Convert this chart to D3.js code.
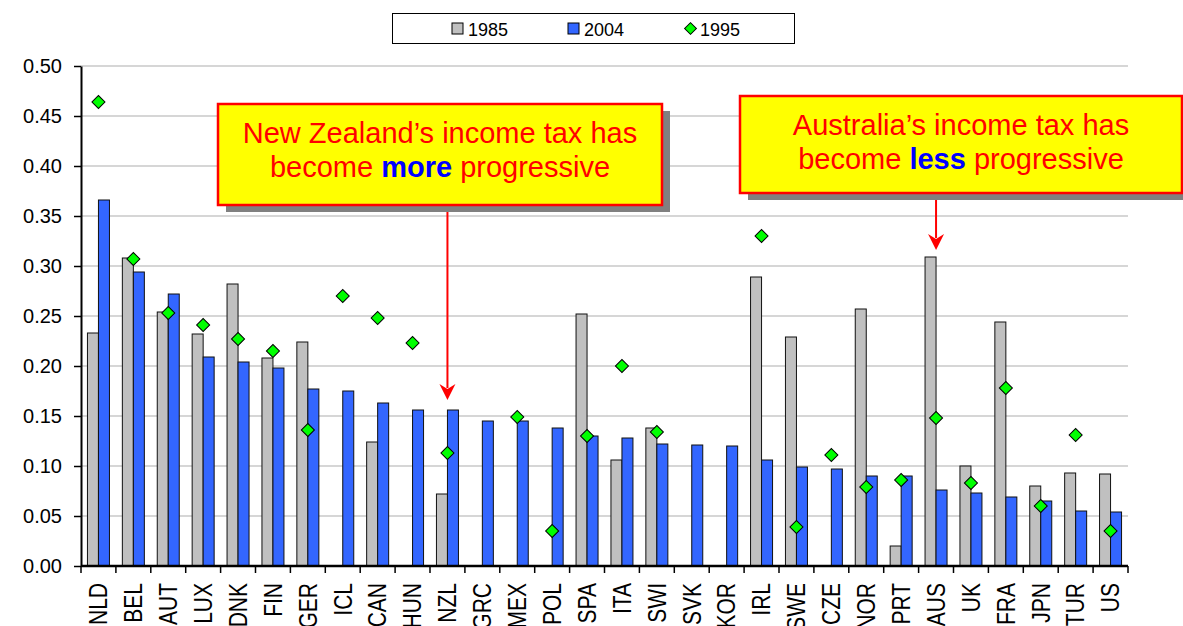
<!DOCTYPE html>
<html>
<head>
<meta charset="utf-8">
<script src="https://cdn.jsdelivr.net/npm/d3@7"></script>
<style>
  body { margin: 0; background: #fff; }
  svg { display: block; font-family: Arial, "Liberation Sans", sans-serif; }
</style>
</head>
<body>
<svg id="chart" width="1183" height="626"></svg>
<script>
// countries, left to right
const countries = ['NLD', 'BEL', 'AUT', 'LUX', 'DNK', 'FIN', 'GER', 'ICL', 'CAN', 'HUN',
  'NZL', 'GRC', 'MEX', 'POL', 'SPA', 'ITA', 'SWI', 'SVK', 'KOR', 'IRL',
  'SWE', 'CZE', 'NOR', 'PRT', 'AUS', 'UK', 'FRA', 'JPN', 'TUR', 'US']

// null = no value for that year
const v1985 = [0.233, 0.308, 0.254, 0.232, 0.282, 0.208, 0.224, null, 0.124, null,
  0.072, null, null, null, 0.252, 0.106, 0.138, null, null, 0.289,
  0.229, null, 0.257, 0.020, 0.309, 0.100, 0.244, 0.080, 0.093, 0.092]
const v2004 = [0.366, 0.294, 0.272, 0.209, 0.204, 0.198, 0.177, 0.175, 0.163, 0.156,
  0.156, 0.145, 0.145, 0.138, 0.130, 0.128, 0.122, 0.121, 0.120, 0.106,
  0.099, 0.097, 0.090, 0.090, 0.076, 0.073, 0.069, 0.065, 0.055, 0.054]
const v1995 = [0.464, 0.307, 0.253, 0.241, 0.227, 0.215, 0.136, 0.270, 0.248, 0.223,
  0.113, null, 0.149, 0.035, 0.130, 0.200, 0.134, null, null, 0.330,
  0.039, 0.111, 0.079, 0.086, 0.148, 0.083, 0.178, 0.060, 0.131, 0.035]

const yTicks = d3.range(0, 0.501, 0.05)

const notes = [
  {country: 'NZL', lines: [['New Zealand’s income tax has'], ['become ', 'more', ' progressive']],
    box: [218, 104, 444, 101], tipY: 400},
  {country: 'AUS', lines: [['Australia’s income tax has'], ['become ', 'less', ' progressive']],
    box: [740, 96, 442, 97], tipY: 250}
]

const svg = d3.select('#chart')
const margin = {left: 81, top: 66, right: 55, bottom: 60}
const width = 1183 - margin.left - margin.right
const height = 566 - margin.top

const x = d3.scaleBand().domain(countries).range([0, width])
const y = d3.scaleLinear().domain([0, 0.5]).range([height, 0])
const barW = 11

const g = svg.append('g').attr('transform', 'translate(' + margin.left + ',' + margin.top + ')')

// grid lines
g.selectAll('.grid')
  .data(yTicks.slice(1))
  .enter().append('line')
  .attr('x1', 0).attr('x2', width)
  .attr('y1', d => y(d)).attr('y2', d => y(d))
  .attr('stroke', '#d6d6d6')
  .attr('stroke-width', 2)

// bars
function drawBars(vals, fill, offset) {
  g.append('g').selectAll('rect')
    .data(countries.map((c, i) => ({c: c, v: vals[i]})).filter(d => d.v != null))
    .enter().append('rect')
    .attr('x', d => x(d.c) + x.bandwidth() / 2 + offset)
    .attr('y', d => y(d.v))
    .attr('width', barW)
    .attr('height', d => y(0) - y(d.v))
    .attr('fill', fill)
    .attr('stroke', '#111')
    .attr('stroke-width', 1)
}
drawBars(v1985, '#c0c0c0', -barW)
drawBars(v2004, '#3366ff', 0)

// 1995 diamonds
const diamond = d3.symbol().type(d3.symbolSquare).size(85)
g.append('g').selectAll('path')
  .data(countries.map((c, i) => ({c: c, v: v1995[i]})).filter(d => d.v != null))
  .enter().append('path')
  .attr('d', diamond)
  .attr('transform', d => 'translate(' + (x(d.c) + x.bandwidth() / 2) + ',' + y(d.v) + ') rotate(45)')
  .attr('fill', '#00ff00')
  .attr('stroke', '#000')
  .attr('stroke-width', 1)

// y axis
const yAxis = g.append('g')
  .call(d3.axisLeft(y).tickValues(yTicks).tickFormat(d3.format('.2f')).tickSize(7).tickSizeOuter(0))
yAxis.select('.domain').attr('stroke', '#000').attr('stroke-width', 2)
yAxis.selectAll('.tick line').attr('stroke', '#000').attr('stroke-width', 1.5)
yAxis.selectAll('.tick text')
  .attr('x', -19)
  .style('font-size', '20px')
  .style('font-family', 'Arial, "Liberation Sans", sans-serif')
  .attr('fill', '#000')

// x axis: line plus ticks at the category boundaries
g.append('line')
  .attr('x1', 0).attr('x2', width)
  .attr('y1', height).attr('y2', height)
  .attr('stroke', '#000').attr('stroke-width', 2.5)
g.selectAll('.xtick')
  .data(d3.range(countries.length + 1))
  .enter().append('line')
  .attr('x1', i => i * x.step()).attr('x2', i => i * x.step())
  .attr('y1', height).attr('y2', height + 7)
  .attr('stroke', '#000').attr('stroke-width', 1.5)
g.selectAll('.xlabel')
  .data(countries)
  .enter().append('text')
  .attr('transform', d => 'translate(' + (x(d) + x.bandwidth() / 2) + ',' + (height + 17) + ') rotate(-90) scale(1,1.2)')
  .attr('text-anchor', 'end')
  .attr('dy', '0.35em')
  .style('font-size', '21px')
  .attr('fill', '#000')
  .text(d => d)

// annotations
notes.forEach(n => {
  const [bx, by, bw, bh] = n.box
  const ax = margin.left + x(n.country) + x.bandwidth() / 2
  const tip = n.tipY
  svg.append('line')
    .attr('x1', ax).attr('x2', ax)
    .attr('y1', by + bh).attr('y2', tip - 12)
    .attr('stroke', '#ff0000').attr('stroke-width', 2)
  svg.append('path')
    .attr('d', 'M' + (ax - 8) + ',' + (tip - 16) + ' L' + ax + ',' + tip + ' L' + (ax + 8) + ',' + (tip - 16) + ' L' + ax + ',' + (tip - 11) + 'Z')
    .attr('fill', '#ff0000')
  svg.append('rect')
    .attr('x', bx + 8).attr('y', by + 7)
    .attr('width', bw).attr('height', bh)
    .attr('fill', '#808080')
  svg.append('rect')
    .attr('x', bx).attr('y', by)
    .attr('width', bw).attr('height', bh)
    .attr('fill', '#ffff00')
    .attr('stroke', '#ff0000').attr('stroke-width', 2.5)
  n.lines.forEach((parts, li) => {
    const t = svg.append('text')
      .attr('x', bx + bw / 2)
      .attr('y', by + 39 + li * 34)
      .attr('text-anchor', 'middle')
      .style('font-size', '29px')
      .attr('fill', '#ff0000')
    parts.forEach((p, pi) => {
      const s = t.append('tspan').text(p)
      if (pi === 1) s.attr('fill', '#0000ff').style('font-weight', 'bold')
    })
  })
})

// legend
const legend = svg.append('g')
legend.append('rect')
  .attr('x', 392.5).attr('y', 13.5).attr('width', 402).attr('height', 30)
  .attr('fill', '#fff').attr('stroke', '#000').attr('stroke-width', 1)
const legendItems = [
  {label: '1985', fill: '#c0c0c0', shape: 'rect', x: 452},
  {label: '2004', fill: '#3366ff', shape: 'rect', x: 568},
  {label: '1995', fill: '#00ff00', shape: 'diamond', x: 684}
]
legendItems.forEach(it => {
  if (it.shape === 'rect') {
    legend.append('rect')
      .attr('x', it.x).attr('y', 23).attr('width', 11).attr('height', 11)
      .attr('fill', it.fill).attr('stroke', '#000').attr('stroke-width', 1)
  } else {
    legend.append('path')
      .attr('d', d3.symbol().type(d3.symbolSquare).size(70))
      .attr('transform', 'translate(' + (it.x + 6.5) + ',28.5) rotate(45)')
      .attr('fill', it.fill).attr('stroke', '#000').attr('stroke-width', 1)
  }
  legend.append('text')
    .attr('x', it.x + 16).attr('y', 35.5)
    .style('font-size', '18px')
    .attr('fill', '#000')
    .text(it.label)
})
</script>
</body>
</html>
